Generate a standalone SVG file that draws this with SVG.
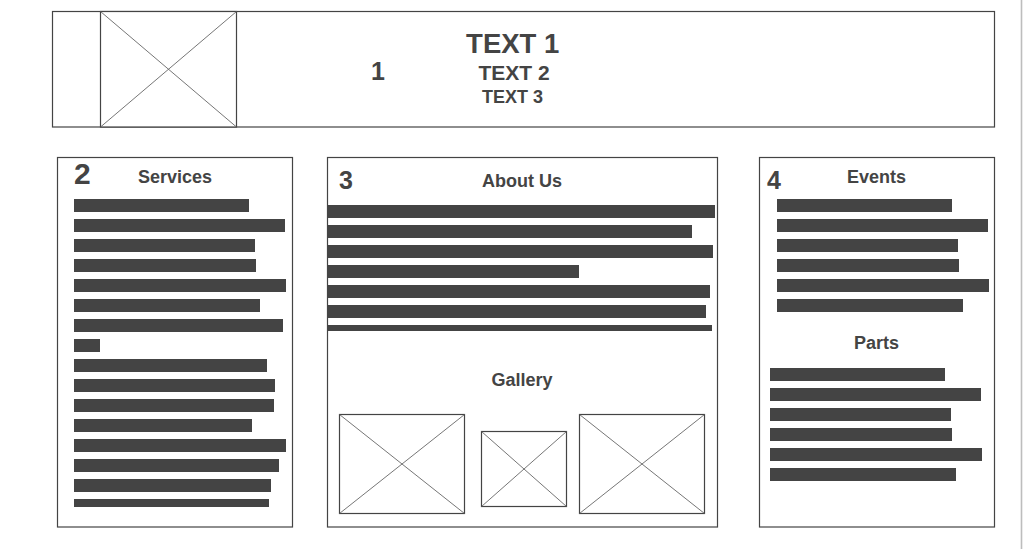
<svg xmlns="http://www.w3.org/2000/svg" width="1025" height="549" viewBox="0 0 1025 549">
<style>
.box{fill:#fff;stroke:#444;stroke-width:1.2}
.img{fill:#fff;stroke:#444;stroke-width:1.2}
.x{stroke:#666;stroke-width:0.9}
.bar{fill:#444}
text{font-family:"Liberation Sans",Arial,sans-serif;font-weight:bold;fill:#444}
.c{text-anchor:middle}
</style>
<rect width="1025" height="549" fill="#fff"/>
<line x1="1021.5" y1="0" x2="1021.5" y2="549" stroke="#bdbdbd" stroke-width="1.6"/>
<g id="header">
<rect class="box" x="52.5" y="11.5" width="942" height="115.5"/>
<rect class="img" x="100.5" y="11.5" width="136" height="115.5"/>
<line class="x" x1="100.5" y1="11.5" x2="236.5" y2="127"/>
<line class="x" x1="236.5" y1="11.5" x2="100.5" y2="127"/>
<text x="378" y="80" class="c" font-size="25">1</text>
<text x="512.7" y="53.3" class="c" font-size="27.5">TEXT 1</text>
<text x="514" y="80" class="c" font-size="21">TEXT 2</text>
<text x="512.5" y="102.7" class="c" font-size="18">TEXT 3</text>
</g>
<g id="services">
<rect class="box" x="57.5" y="157.5" width="235" height="369.5"/>
<text x="74" y="183.5" font-size="30">2</text>
<text x="175" y="182.5" class="c" font-size="18">Services</text>
<rect class="bar" x="74" y="199" width="175" height="13"/>
<rect class="bar" x="74" y="219" width="211" height="13"/>
<rect class="bar" x="74" y="239" width="181" height="13"/>
<rect class="bar" x="74" y="259" width="182" height="13"/>
<rect class="bar" x="74" y="279" width="212" height="13"/>
<rect class="bar" x="74" y="299" width="186" height="13"/>
<rect class="bar" x="74" y="319" width="209" height="13"/>
<rect class="bar" x="74" y="339" width="26" height="13"/>
<rect class="bar" x="74" y="359" width="193" height="13"/>
<rect class="bar" x="74" y="379" width="201" height="13"/>
<rect class="bar" x="74" y="399" width="200" height="13"/>
<rect class="bar" x="74" y="419" width="178" height="13"/>
<rect class="bar" x="74" y="439" width="212" height="13"/>
<rect class="bar" x="74" y="459" width="205" height="13"/>
<rect class="bar" x="74" y="479" width="197" height="13"/>
<rect class="bar" x="74" y="499" width="195" height="8"/>
</g>
<g id="about">
<rect class="box" x="327.5" y="157.5" width="390" height="369.5"/>
<text x="339" y="188.5" font-size="25">3</text>
<text x="522" y="187" class="c" font-size="18">About Us</text>
<rect class="bar" x="328" y="205" width="387" height="13"/>
<rect class="bar" x="328" y="225" width="364" height="13"/>
<rect class="bar" x="328" y="245" width="385" height="13"/>
<rect class="bar" x="328" y="265" width="251" height="13"/>
<rect class="bar" x="328" y="285" width="382" height="13"/>
<rect class="bar" x="328" y="305" width="378" height="13"/>
<rect class="bar" x="328" y="325" width="384" height="6"/>
<text x="522" y="386" class="c" font-size="18">Gallery</text>
<rect class="img" x="339.5" y="414.5" width="125" height="99"/>
<line class="x" x1="339.5" y1="414.5" x2="464.5" y2="513.5"/>
<line class="x" x1="464.5" y1="414.5" x2="339.5" y2="513.5"/>
<rect class="img" x="481.5" y="431.5" width="85" height="75"/>
<line class="x" x1="481.5" y1="431.5" x2="566.5" y2="506.5"/>
<line class="x" x1="566.5" y1="431.5" x2="481.5" y2="506.5"/>
<rect class="img" x="579.5" y="414.5" width="125" height="99"/>
<line class="x" x1="579.5" y1="414.5" x2="704.5" y2="513.5"/>
<line class="x" x1="704.5" y1="414.5" x2="579.5" y2="513.5"/>
</g>
<g id="events">
<rect class="box" x="759.5" y="157.5" width="235" height="369.5"/>
<text x="767" y="189.3" font-size="25">4</text>
<text x="876.5" y="183.3" class="c" font-size="18">Events</text>
<rect class="bar" x="777" y="199" width="175" height="13"/>
<rect class="bar" x="777" y="219" width="211" height="13"/>
<rect class="bar" x="777" y="239" width="181" height="13"/>
<rect class="bar" x="777" y="259" width="182" height="13"/>
<rect class="bar" x="777" y="279" width="212" height="13"/>
<rect class="bar" x="777" y="299" width="186" height="13"/>
<text x="876.5" y="349.3" class="c" font-size="18">Parts</text>
<rect class="bar" x="770" y="368" width="175" height="13"/>
<rect class="bar" x="770" y="388" width="211" height="13"/>
<rect class="bar" x="770" y="408" width="181" height="13"/>
<rect class="bar" x="770" y="428" width="182" height="13"/>
<rect class="bar" x="770" y="448" width="212" height="13"/>
<rect class="bar" x="770" y="468" width="186" height="13"/>
</g>
<g id="connectors"/>
</svg>
